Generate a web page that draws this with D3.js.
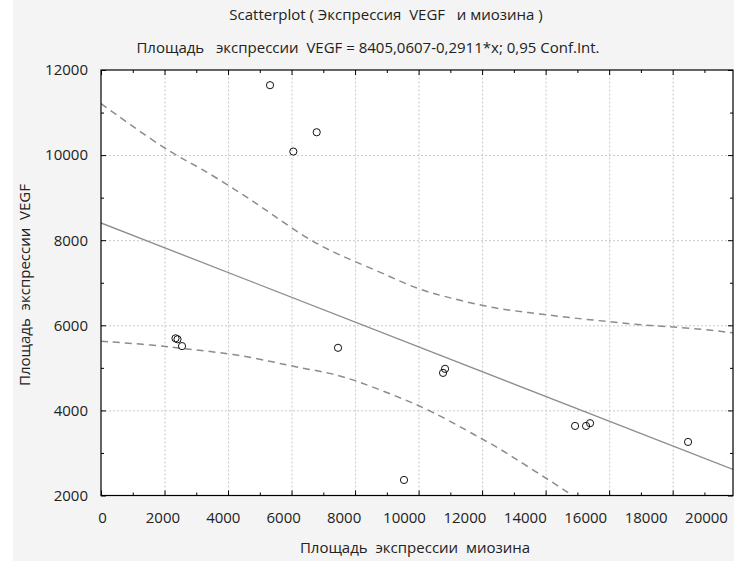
<!DOCTYPE html>
<html>
<head>
<meta charset="utf-8">
<script src="https://cdn.jsdelivr.net/npm/d3@7"></script>
<style>
  body { margin: 0; background: #fff; }
  svg text { font-family: "Open Sans", "Noto Sans", sans-serif; fill: #222; white-space: pre; }
</style>
</head>
<body>
<svg id="chart" width="734" height="561"></svg>
<script>
// points (myosin area, VEGF area)
var pointX = [5322, 6056, 6792, 2346, 2409, 2551, 7463, 10833, 10770, 9541, 14927, 15273, 15399, 18485];
var pointY = [11643, 10083, 10537, 5694, 5671, 5511, 5471, 4977, 4882, 2365, 3635, 3635, 3699, 3259];

// regression line coefficients (from subtitle)
var intercept = 8405.0607, slope = -0.2911;

// 0.95 confidence bands
var upperX = [0, 913, 2236, 3118, 4377, 5322, 6424, 7526, 8786, 9982, 10990, 12250, 13509, 14769, 16029, 17288, 18548, 19902];
var upperY = [11212, 10718, 10035, 9706, 9118, 8647, 8059, 7635, 7259, 6835, 6647, 6412, 6294, 6177, 6083, 5988, 5941, 5824];
var lowerX = [0, 1637, 2897, 4157, 5416, 6267, 7211, 8061, 9195, 10360, 11934, 12470, 13509, 14548, 14832];
var lowerY = [5624, 5541, 5424, 5330, 5141, 5000, 4882, 4694, 4365, 4012, 3353, 3141, 2647, 2153, 2000];

var xTicks = [0, 2000, 4000, 6000, 8000, 10000, 12000, 14000, 16000, 18000, 20000];
var yTicks = [2000, 4000, 6000, 8000, 10000, 12000];

var titleText = "Scatterplot ( Экспрессия  VEGF   и миозина )";
var subtitleText = "Площадь   экспрессии  VEGF = 8405,0607-0,2911*x; 0,95 Conf.Int.";
var xTitle = "Площадь  экспрессии  миозина";
var yTitle = "Площадь  экспрессии  VEGF";

var svg = d3.select("#chart");
var pLeft = 101, pRight = 733, pTop = 70, pBottom = 495.5;

var x = d3.scaleLinear().domain([0, 19900]).range([pLeft, pRight]);
var y = d3.scaleLinear().domain([2000, 12000]).range([pBottom, pTop]);
// the tick labels of the original sit a little off the grid
var xLab = d3.scaleLinear().domain([0, 20000]).range([102, 706]);

// panel background
svg.append("rect").attr("x", 13).attr("y", 0).attr("width", 721).attr("height", 561).attr("fill", "#f4f4f4");
svg.append("rect").attr("x", pLeft).attr("y", pTop).attr("width", pRight - pLeft).attr("height", pBottom - pTop).attr("fill", "#fff");

// grid
var gx = svg.append("g").attr("transform", "translate(0," + pBottom + ")")
	.call(d3.axisBottom(x).tickValues(d3.range(2000, 19000, 2000)).tickSize(-(pBottom - pTop)).tickFormat(""));
var gy = svg.append("g").attr("transform", "translate(" + pLeft + ",0)")
	.call(d3.axisLeft(y).tickValues(d3.range(4000, 12000, 2000)).tickSize(-(pRight - pLeft)).tickFormat(""));
[gx, gy].forEach(function(g) {
	g.select(".domain").remove();
	g.selectAll("line").attr("stroke", "#c8c8c8").attr("stroke-dasharray", "2,2");
});

// inward ticks on all four sides
function ticks(axis, tr, vals, size) {
	var g = svg.append("g").attr("transform", tr).call(axis.tickValues(vals).tickSize(size).tickFormat(""));
	g.select(".domain").remove();
	g.selectAll("line").attr("stroke", "#000");
}
var xMinor = d3.range(1000, 20000, 2000), xMajor = d3.range(0, 20000, 2000);
var yMinor = d3.range(3000, 12000, 2000), yMajor = d3.range(2000, 12001, 2000);
ticks(d3.axisBottom(x), "translate(0," + pBottom + ")", xMajor, -5);
ticks(d3.axisBottom(x), "translate(0," + pBottom + ")", xMinor, -3);
ticks(d3.axisTop(x), "translate(0," + pTop + ")", xMajor, -5);
ticks(d3.axisTop(x), "translate(0," + pTop + ")", xMinor, -3);
ticks(d3.axisLeft(y), "translate(" + pLeft + ",0)", yMajor, -5);
ticks(d3.axisLeft(y), "translate(" + pLeft + ",0)", yMinor, -3);
ticks(d3.axisRight(y), "translate(" + pRight + ",0)", yMajor, -5);
ticks(d3.axisRight(y), "translate(" + pRight + ",0)", yMinor, -3);

// tick labels
var lx = svg.append("g").attr("transform", "translate(0," + (pBottom + 14) + ")")
	.call(d3.axisBottom(xLab).tickValues(xTicks).tickSize(0).tickFormat(d3.format("d")));
var ly = svg.append("g").attr("transform", "translate(" + (pLeft - 10) + ",0)")
	.call(d3.axisLeft(y).tickValues(yTicks).tickSize(0).tickFormat(d3.format("d")));
[lx, ly].forEach(function(g) {
	g.select(".domain").remove();
	g.selectAll("text").attr("font-size", 15).attr("font-family", null).attr("fill", "#222");
});

// bands and fit
svg.append("clipPath").attr("id", "plot").append("rect")
	.attr("x", pLeft).attr("y", pTop).attr("width", pRight - pLeft).attr("height", pBottom - pTop);
var line = d3.line().x(d => x(d[0])).y(d => y(d[1])).curve(d3.curveBasis);
var plot = svg.append("g").attr("clip-path", "url(#plot)");

plot.append("path").datum(upperX.map((v, i) => [v, upperY[i]]))
	.attr("d", line).attr("fill", "none").attr("stroke", "#8c8c8c").attr("stroke-width", 1.5).attr("stroke-dasharray", "7,5");
plot.append("path").datum(lowerX.map((v, i) => [v, lowerY[i]]))
	.attr("d", line).attr("fill", "none").attr("stroke", "#8c8c8c").attr("stroke-width", 1.5).attr("stroke-dasharray", "7,5");
plot.append("line")
	.attr("x1", x(0)).attr("y1", y(intercept))
	.attr("x2", x(19900)).attr("y2", y(intercept + slope * 19900))
	.attr("stroke", "#8c8c8c").attr("stroke-width", 1.3);

// points
svg.append("g").selectAll("circle")
	.data(pointX.map((v, i) => [v, pointY[i]]))
	.enter().append("circle")
		.attr("cx", d => x(d[0]))
		.attr("cy", d => y(d[1]))
		.attr("r", 3.6)
		.attr("fill", "none")
		.attr("stroke", "#111")
		.attr("stroke-width", 1);

// frame
svg.append("rect").attr("x", pLeft).attr("y", pTop).attr("width", pRight - pLeft).attr("height", pBottom - pTop)
	.attr("fill", "none").attr("stroke", "#000").attr("stroke-width", 1.2);

// titles
svg.append("text").attr("x", 386).attr("y", 20).attr("text-anchor", "middle").attr("font-size", 15).text(titleText);
svg.append("text").attr("x", 368).attr("y", 53).attr("text-anchor", "middle").attr("font-size", 15).text(subtitleText);
svg.append("text").attr("x", 415).attr("y", 553).attr("text-anchor", "middle").attr("font-size", 15).text(xTitle);
svg.append("text").attr("transform", "translate(30,285) rotate(-90)").attr("text-anchor", "middle").attr("font-size", 15).text(yTitle);
</script>
</body>
</html>
